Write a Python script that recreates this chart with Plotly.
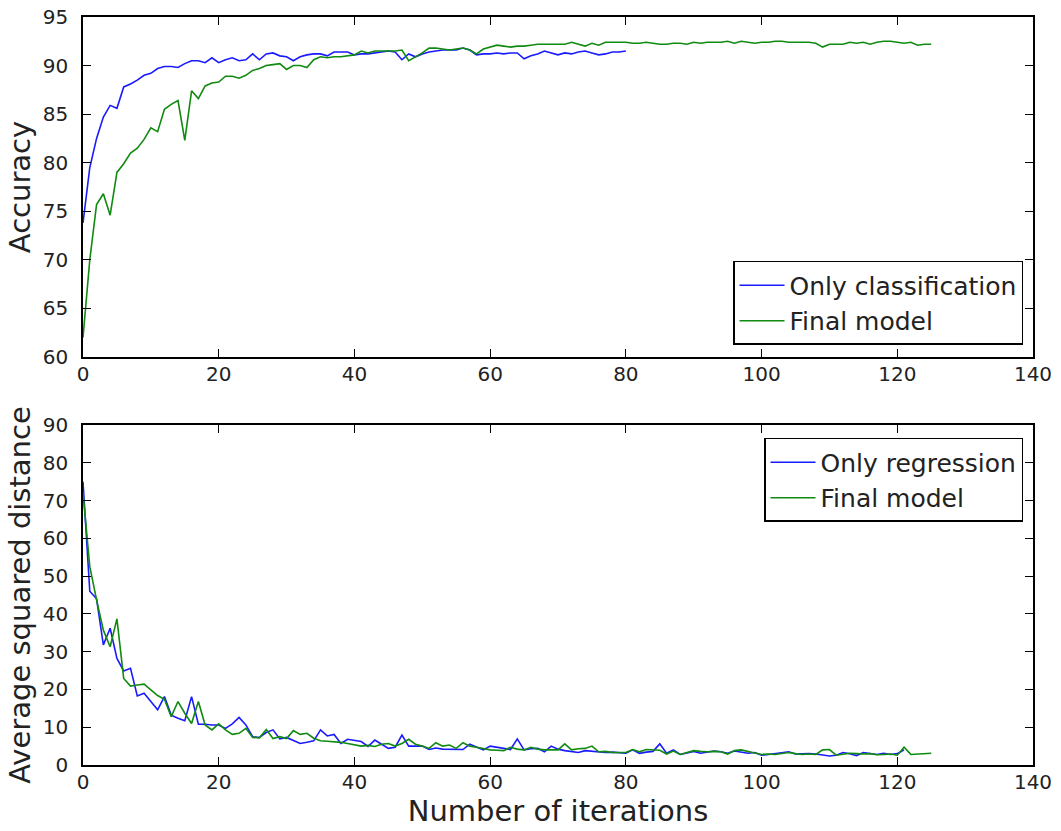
import plotly.graph_objects as go

# ---------------- data ----------------
acc_only_classification = [
    73.8, 79.5, 82.5, 84.7, 85.9, 85.6, 87.8, 88.1, 88.5, 89.0,
    89.2, 89.7, 89.9, 89.9, 89.8, 90.2, 90.5, 90.5, 90.3, 90.8,
    90.3, 90.6, 90.8, 90.5, 90.6, 91.2, 90.6, 91.2, 91.3, 91.0,
    90.9, 90.5, 90.9, 91.1, 91.2, 91.2, 91.0, 91.4, 91.4, 91.4,
    91.1, 91.2, 91.2, 91.3, 91.4, 91.5, 91.4, 90.6, 91.2, 90.9,
    91.2, 91.4, 91.5, 91.6, 91.6, 91.6, 91.8, 91.6, 91.1, 91.2,
    91.2, 91.3, 91.2, 91.3, 91.3, 90.7, 91.0, 91.2, 91.5, 91.3,
    91.1, 91.3, 91.2, 91.4, 91.5, 91.3, 91.1, 91.2, 91.4, 91.4,
    91.5,
]
acc_final_model = [
    62.0, 70.0, 75.7, 76.8, 74.6, 79.0, 79.9, 81.0, 81.5, 82.4,
    83.6, 83.2, 85.5, 86.0, 86.4, 82.3, 87.4, 86.6, 87.9, 88.2,
    88.3, 88.9, 88.9, 88.7, 89.0, 89.5, 89.7, 90.0, 90.1, 90.2,
    89.6, 90.0, 90.0, 89.8, 90.6, 90.9, 90.8, 90.9, 90.9, 91.0,
    91.1, 91.5, 91.3, 91.5, 91.5, 91.5, 91.5, 91.6, 90.5, 90.9,
    91.3, 91.8, 91.8, 91.7, 91.6, 91.7, 91.8, 91.6, 91.2, 91.7,
    91.9, 92.1, 92.0, 91.9, 92.0, 92.0, 92.1, 92.2, 92.2, 92.2,
    92.2, 92.2, 92.4, 92.2, 92.0, 92.3, 92.1, 92.4, 92.4, 92.4,
    92.4, 92.3, 92.3, 92.4, 92.3, 92.2, 92.2, 92.3, 92.3, 92.2,
    92.4, 92.3, 92.4, 92.4, 92.4, 92.5, 92.3, 92.5, 92.4, 92.3,
    92.4, 92.4, 92.5, 92.5, 92.4, 92.4, 92.4, 92.4, 92.3, 91.9,
    92.2, 92.2, 92.2, 92.4, 92.3, 92.4, 92.2, 92.4, 92.5, 92.5,
    92.4, 92.3, 92.4, 92.1, 92.2, 92.2,
]
dist_only_regression = [
    75.0, 46.0, 44.0, 31.8, 36.2, 28.2, 24.9, 25.6, 18.3, 19.0,
    16.8, 14.6, 18.1, 13.2, 12.4, 11.7, 18.1, 10.8, 10.8, 10.6,
    10.6, 9.7, 10.9, 12.6, 10.6, 7.5, 7.3, 8.6, 9.3, 6.9,
    7.3, 6.5, 5.7, 6.0, 6.4, 9.3, 7.7, 8.1, 5.7, 6.8,
    6.5, 6.2, 4.9, 6.6, 5.5, 4.4, 4.7, 7.9, 5.0, 5.0,
    5.0, 4.1, 4.5, 4.2, 4.2, 4.1, 4.1, 5.5, 4.8, 4.0,
    5.0, 4.6, 4.4, 4.1, 6.9, 4.0, 4.3, 4.4, 3.5, 5.0,
    4.2, 3.8, 3.6, 3.3, 3.8, 3.7, 3.6, 3.3, 3.4, 3.3,
    3.1, 4.0, 3.1, 3.4, 3.6, 5.6, 3.1, 4.0, 2.8, 3.2,
    3.6, 3.1, 3.5, 3.7, 3.5, 3.1, 3.7, 3.4, 3.1, 3.3,
    2.6, 2.8, 3.1, 3.3, 3.5, 2.9, 3.0, 3.0, 2.9, 2.7,
    2.4, 2.6, 3.3, 3.0, 2.5, 3.3, 3.0, 2.8, 3.1, 2.8,
    3.0, 4.0,
]
dist_final_model = [
    72.0, 52.5, 43.7, 35.7, 31.3, 38.7, 22.9, 20.9, 21.2, 21.4,
    19.9, 18.4, 17.4, 12.8, 16.8, 13.7, 11.0, 16.8, 10.6, 9.3,
    10.9, 9.3, 8.1, 8.4, 9.7, 7.3, 7.2, 9.4, 7.0, 7.5,
    7.0, 9.1, 8.1, 8.4, 7.1, 6.4, 6.3, 6.2, 6.0, 5.7,
    5.3, 5.0, 5.2, 4.9, 5.5, 5.7, 5.0, 5.7, 6.8, 5.5,
    5.0, 4.4, 5.9, 5.0, 5.3, 4.4, 5.9, 5.0, 4.7, 4.3,
    4.0, 3.9, 3.8, 4.7, 4.2, 4.0, 4.7, 4.2, 4.0, 4.0,
    4.0, 5.6, 4.0, 4.3, 4.4, 5.0, 3.5, 3.6, 3.3, 3.3,
    3.3, 4.1, 3.5, 4.1, 3.9, 3.9, 2.9, 3.7, 2.8, 3.4,
    3.8, 3.6, 3.5, 3.6, 3.5, 2.9, 3.8, 4.0, 3.5, 3.2,
    2.8, 2.9, 2.8, 3.0, 3.3, 3.0, 2.8, 2.9, 2.8, 4.0,
    4.1, 2.6, 2.9, 3.1, 3.0, 2.9, 3.0, 2.7, 2.8, 2.9,
    2.6, 4.7, 2.8, 2.9, 3.0, 3.1,
]
x_ticks = [0, 20, 40, 60, 80, 100, 120, 140]
acc_ticks = [60, 65, 70, 75, 80, 85, 90, 95]
dist_ticks = [0, 10, 20, 30, 40, 50, 60, 70, 80, 90]

BLUE = "#1a1aff"
GREEN = "#108a10"
FONT = "DejaVu Sans"
LW = 1.6

fig = go.Figure()
fig.add_trace(go.Scatter(x=list(range(len(acc_only_classification))), y=acc_only_classification,
                         mode="lines", name="Only classification",
                         line=dict(color=BLUE, width=LW), xaxis="x", yaxis="y", legend="legend"))
fig.add_trace(go.Scatter(x=list(range(len(acc_final_model))), y=acc_final_model,
                         mode="lines", name="Final model",
                         line=dict(color=GREEN, width=LW), xaxis="x", yaxis="y", legend="legend"))
fig.add_trace(go.Scatter(x=list(range(len(dist_only_regression))), y=dist_only_regression,
                         mode="lines", name="Only regression",
                         line=dict(color=BLUE, width=LW), xaxis="x2", yaxis="y2", legend="legend2"))
fig.add_trace(go.Scatter(x=list(range(len(dist_final_model))), y=dist_final_model,
                         mode="lines", name="Final model",
                         line=dict(color=GREEN, width=LW), xaxis="x2", yaxis="y2", legend="legend2"))

axis_common = dict(showline=True, linecolor="black", linewidth=1.5, mirror="ticks",
                   ticks="inside", ticklen=8, tickwidth=1, tickcolor="black",
                   showgrid=False, zeroline=False, automargin=False,
                   tickfont=dict(family=FONT, size=20, color="#222222"))

legend_common = dict(bordercolor="black", borderwidth=1.5, bgcolor="white",
                     font=dict(family=FONT, size=25, color="#222222"),
                     tracegroupgap=0, itemwidth=45)

fig.update_layout(
    width=1061, height=831,
    paper_bgcolor="white", plot_bgcolor="white",
    margin=dict(l=83, r=28, t=17, b=66),
    font=dict(family=FONT, color="#222222"),
    xaxis=dict(domain=[0, 1], anchor="y", range=[0, 140], tickvals=x_ticks,
               ticklabelstandoff=-2, **axis_common),
    yaxis=dict(domain=[0.5455, 1], anchor="x", range=[60, 95], tickvals=acc_ticks,
               ticklabelstandoff=9,
               title=dict(text="Accuracy", font=dict(family=FONT, size=29), standoff=4),
               **axis_common),
    xaxis2=dict(domain=[0, 1], anchor="y2", range=[0, 140], tickvals=x_ticks,
                ticklabelstandoff=-2,
                title=dict(text="Number of iterations", font=dict(family=FONT, size=29), standoff=4),
                **axis_common),
    yaxis2=dict(domain=[0, 0.4545], anchor="x2", range=[0, 90], tickvals=dist_ticks,
                ticklabelstandoff=9,
                title=dict(text="Average squared distance", font=dict(family=FONT, size=29), standoff=4),
                **axis_common),
    legend=dict(x=0.9895, y=0.5615, xanchor="right", yanchor="bottom", **legend_common),
    legend2=dict(x=0.9895, y=0.4372, xanchor="right", yanchor="top", **legend_common),
    showlegend=True,
)

fig.write_html("out.html")
